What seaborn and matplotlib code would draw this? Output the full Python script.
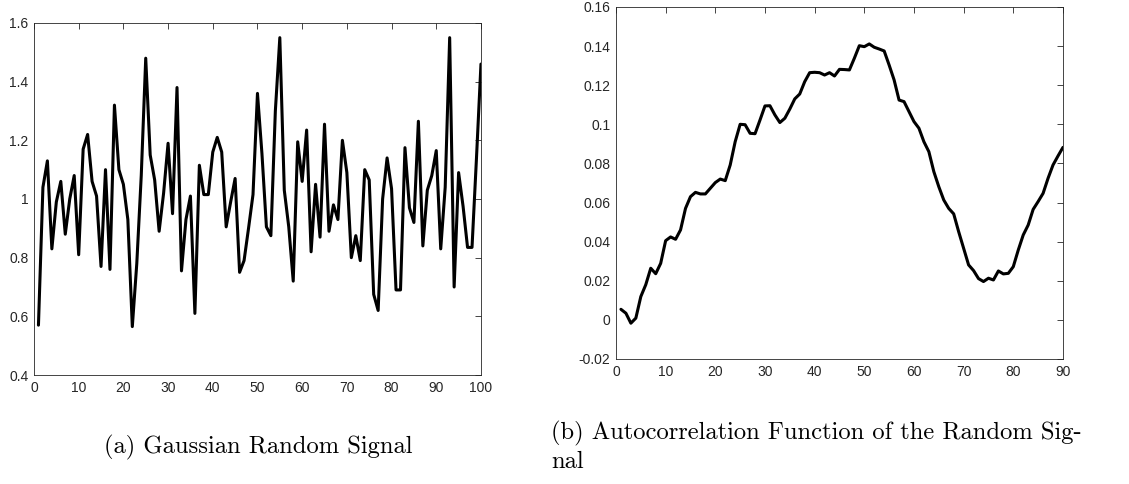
import matplotlib
matplotlib.use("Agg")
import matplotlib.pyplot as plt
import numpy as np
import seaborn as sns
from matplotlib.ticker import FuncFormatter, MultipleLocator


# (a) Gaussian random signal, samples 1..100
signal_x = np.arange(1, 101)
signal_y = [
    0.57, 1.04, 1.13, 0.83, 0.99, 1.06, 0.88, 1.00, 1.08, 0.81,
    1.17, 1.22, 1.06, 1.01, 0.77, 1.10, 0.76, 1.32, 1.10, 1.05,
    0.93, 0.565, 0.78, 1.08, 1.48, 1.15, 1.065, 0.89, 1.02, 1.19,
    0.95, 1.38, 0.755, 0.93, 1.01, 0.61, 1.115, 1.015, 1.015, 1.16,
    1.21, 1.16, 0.905, 0.99, 1.07, 0.75, 0.79, 0.90, 1.015, 1.36,
    1.155, 0.905, 0.875, 1.30, 1.55, 1.03, 0.905, 0.72, 1.195, 1.06,
    1.235, 0.82, 1.05, 0.87, 1.255, 0.89, 0.98, 0.93, 1.20, 1.09,
    0.80, 0.875, 0.79, 1.10, 1.065, 0.675, 0.62, 1.00, 1.14, 1.035,
    0.69, 0.69, 1.175, 0.97, 0.92, 1.265, 0.84, 1.03, 1.08, 1.165,
    0.83, 1.04, 1.55, 0.70, 1.09, 0.975, 0.835, 0.835, 1.14, 1.46,
]

# (b) autocorrelation, lags 1..90
acf_x = np.arange(1, 91)
acf_y = [
    0.0054, 0.0034, -0.0017, 0.0009, 0.0119, 0.018, 0.0264, 0.0236, 0.0289, 0.0405,
    0.0424, 0.0412, 0.046, 0.057, 0.063, 0.0652, 0.0644, 0.0644, 0.0673, 0.0702,
    0.072, 0.0712, 0.0792, 0.0911, 0.100, 0.0998, 0.0954, 0.0952, 0.1022, 0.1094,
    0.1095, 0.1048, 0.1009, 0.1031, 0.1078, 0.113, 0.1155, 0.1218, 0.1264, 0.1266,
    0.1264, 0.1252, 0.1264, 0.1247, 0.1281, 0.128, 0.1278, 0.1338, 0.1402, 0.1397,
    0.1411, 0.1394, 0.1385, 0.1375, 0.1303, 0.1227, 0.1124, 0.1116, 0.1065, 0.1014,
    0.098, 0.0911, 0.086, 0.0758, 0.0681, 0.0613, 0.057, 0.0542, 0.0451, 0.0366,
    0.0281, 0.0252, 0.0211, 0.0196, 0.0213, 0.0204, 0.025, 0.0235, 0.0238, 0.0272,
    0.0357, 0.0434, 0.0485, 0.0565, 0.0605, 0.0647, 0.0724, 0.0792, 0.0838, 0.0882,
]

CAPTION_A = "(a) Gaussian Random Signal"
CAPTION_B1 = "(b) Autocorrelation Function of the Random Sig-"
CAPTION_B2 = "nal"

AXIS_GREY = "#262626"
CAPTION_SIZE = 17.7


def style_axes(ax):
    for side in ["top", "right", "bottom", "left"]:
        ax.spines[side].set_visible(True)
        ax.spines[side].set_color(AXIS_GREY)
        ax.spines[side].set_linewidth(0.6)
    ax.tick_params(direction="in", length=4, width=0.6, colors=AXIS_GREY,
                   top=True, right=True, labelsize=10, pad=4)
    ax.yaxis.set_major_formatter(FuncFormatter(lambda v, _: f"{v:g}"))
    ax.xaxis.set_major_formatter(FuncFormatter(lambda v, _: f"{v:g}"))
    ax.grid(False)


sns.set_theme(style="white")
plt.rcParams["font.family"] = ["Liberation Sans", "DejaVu Sans"]

fig = plt.figure(figsize=(11.29, 4.84), dpi=100)
ax_a = fig.add_axes([0.0301, 0.2252, 0.3959, 0.7273])
ax_b = fig.add_axes([0.5456, 0.2583, 0.3959, 0.7273])

sns.lineplot(x=signal_x, y=signal_y, ax=ax_a, color="black", linewidth=2.2)
ax_a.set_xlim(0, 100)
ax_a.set_ylim(0.4, 1.6)
ax_a.xaxis.set_major_locator(MultipleLocator(10))
ax_a.yaxis.set_major_locator(MultipleLocator(0.2))
style_axes(ax_a)

sns.lineplot(x=acf_x, y=acf_y, ax=ax_b, color="black", linewidth=2.2)
ax_b.set_xlim(0, 90)
ax_b.set_ylim(-0.02, 0.16)
ax_b.xaxis.set_major_locator(MultipleLocator(10))
ax_b.yaxis.set_major_locator(MultipleLocator(0.02))
style_axes(ax_b)

fig.text(258 / 1129, 1 - 447 / 484, CAPTION_A, family="cmr10", fontsize=CAPTION_SIZE,
         ha="center", va="center", color="black")
fig.text(551 / 1129, 1 - 433 / 484, CAPTION_B1, family="cmr10", fontsize=CAPTION_SIZE,
         ha="left", va="center", color="black")
fig.text(551 / 1129, 1 - 462 / 484, CAPTION_B2, family="cmr10", fontsize=CAPTION_SIZE,
         ha="left", va="center", color="black")

fig.savefig("out.png", dpi=100)
